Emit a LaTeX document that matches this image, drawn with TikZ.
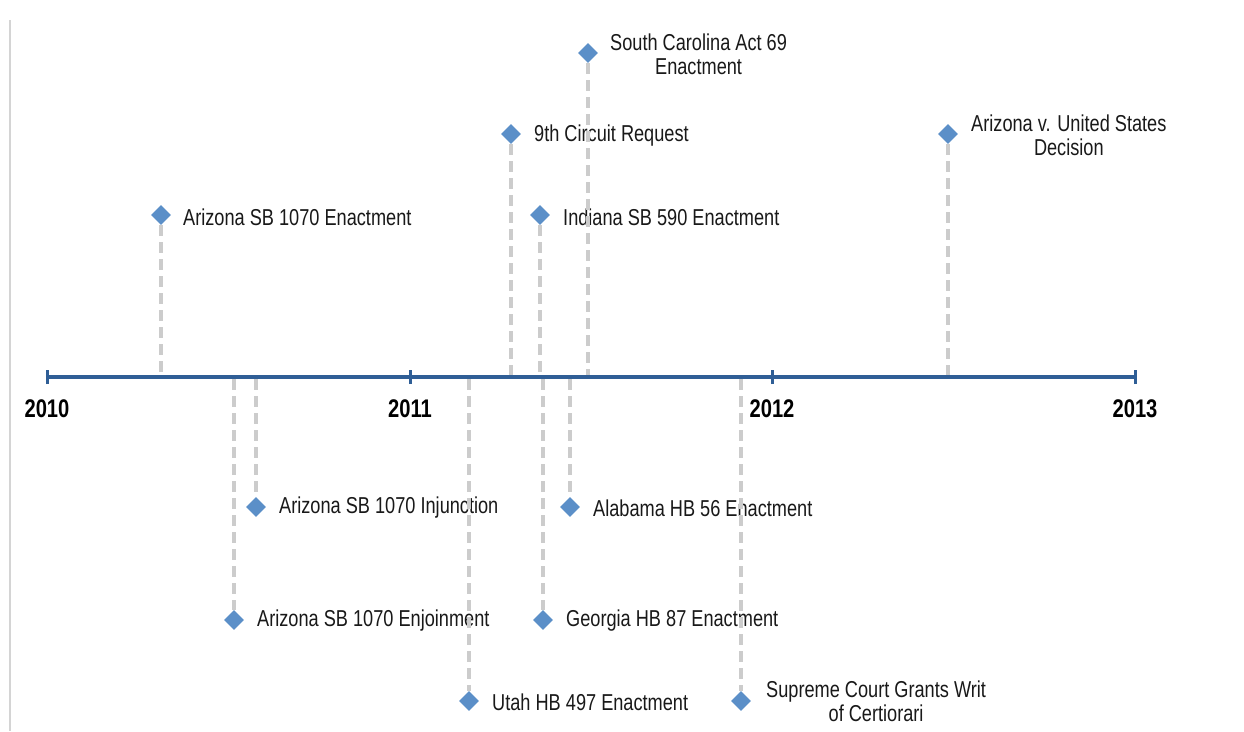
\documentclass[tikz,border=0pt]{standalone}
\usepackage{fontspec}
\setmainfont{Liberation Sans}
\newfontfamily\lab[FakeStretch=0.79]{Liberation Sans}
\usetikzlibrary{shapes.geometric}
\definecolor{axisblue}{HTML}{2F5E96}
\definecolor{dia}{HTML}{5B8FC8}
\definecolor{dashgray}{HTML}{CCCCCC}
\definecolor{bordergray}{HTML}{D4D4D4}
\tikzset{
  x=1pt, y=-1pt,
  ev/.style={diamond, fill=dia, inner sep=0pt, minimum width=20pt, minimum height=20pt},
  lbl/.style={anchor=west, inner sep=0pt, align=center, font=\lab\fontsize{23}{24}\selectfont, text=black!90},
  yr/.style={inner sep=0pt, font=\lab\bfseries\fontsize{25.5}{26}\selectfont},
  stem/.style={dashgray, line width=3.5pt, dash pattern=on 11pt off 6pt},
  axis/.style={axisblue, line width=4pt},
  tick/.style={axisblue, line width=3pt},
}
\begin{document}
\begin{tikzpicture}
\useasboundingbox (0,0) rectangle (1244,731);
\fill[white] (0,0) rectangle (1244,731);
% left border
\draw[bordergray, line width=1.5pt] (10,20) -- (10,731);

% axis points
\coordinate (a2010) at (47,377);
\coordinate (a2011) at (410,377);
\coordinate (a2012) at (772,377);
\coordinate (a2013) at (1135,377);

% event diamonds
\node[ev] (azenact) at (161,215) {};
\node[ev] (ninth) at (511,134) {};
\node[ev] (sc) at (588,53) {};
\node[ev] (indiana) at (540,215) {};
\node[ev] (azus) at (948,134) {};
\node[ev] (azinj) at (256,507) {};
\node[ev] (azenj) at (234,620) {};
\node[ev] (utah) at (469,701) {};
\node[ev] (alabama) at (570,507) {};
\node[ev] (georgia) at (543,620) {};
\node[ev] (scotus) at (741,701) {};

% axis feet of stems
\coordinate (f-azenact) at (161,375);
\coordinate (f-ninth) at (511,375);
\coordinate (f-sc) at (588,375);
\coordinate (f-indiana) at (540,375);
\coordinate (f-azus) at (948,375);
\coordinate (f-azinj) at (256,379);
\coordinate (f-azenj) at (234,379);
\coordinate (f-utah) at (469,379);
\coordinate (f-alabama) at (570,379);
\coordinate (f-georgia) at (543,379);
\coordinate (f-scotus) at (741,379);

% labels
\node[lbl] (l-azenact) at (183,217) {Arizona SB 1070 Enactment};
\node[lbl] (l-ninth) at (534,136) {9th Circuit Request};
\node[lbl] (l-sc) at (610,54) {South Carolina Act 69\\Enactment};
\node[lbl] (l-indiana) at (563,217) {Indiana SB 590 Enactment};
\node[lbl] (l-azus) at (971,135) {Arizona v. United States\\Decision};
\node[lbl] (l-azinj) at (279,508) {Arizona SB 1070 Injunction};
\node[lbl] (l-azenj) at (257,621) {Arizona SB 1070 Enjoinment};
\node[lbl] (l-utah) at (492,702) {Utah HB 497 Enactment};
\node[lbl] (l-alabama) at (593,508) {Alabama HB 56 Enactment};
\node[lbl] (l-georgia) at (566,621) {Georgia HB 87 Enactment};
\node[lbl] (l-scotus) at (766,701) {Supreme Court Grants Writ\\of Certiorari};

% stems
\foreach \e in {azenact,ninth,sc,indiana,azus}
  \draw[stem] (\e.south) -- (f-\e);
\foreach \e in {azinj,azenj,utah,alabama,georgia,scotus}
  \draw[stem] (f-\e) -- (\e.north);

% axis
\draw[axis] (a2010) -- (a2013);
\foreach \p in {a2010,a2011,a2012,a2013}
  \draw[tick] ([yshift=-7pt]\p) -- ([yshift=7pt]\p);

% year labels
\node[yr] (y2010) at (47,409) {2010};
\node[yr] (y2011) at (410,409) {2011};
\node[yr] (y2012) at (772,409) {2012};
\node[yr] (y2013) at (1135,409) {2013};
\end{tikzpicture}
\end{document}
